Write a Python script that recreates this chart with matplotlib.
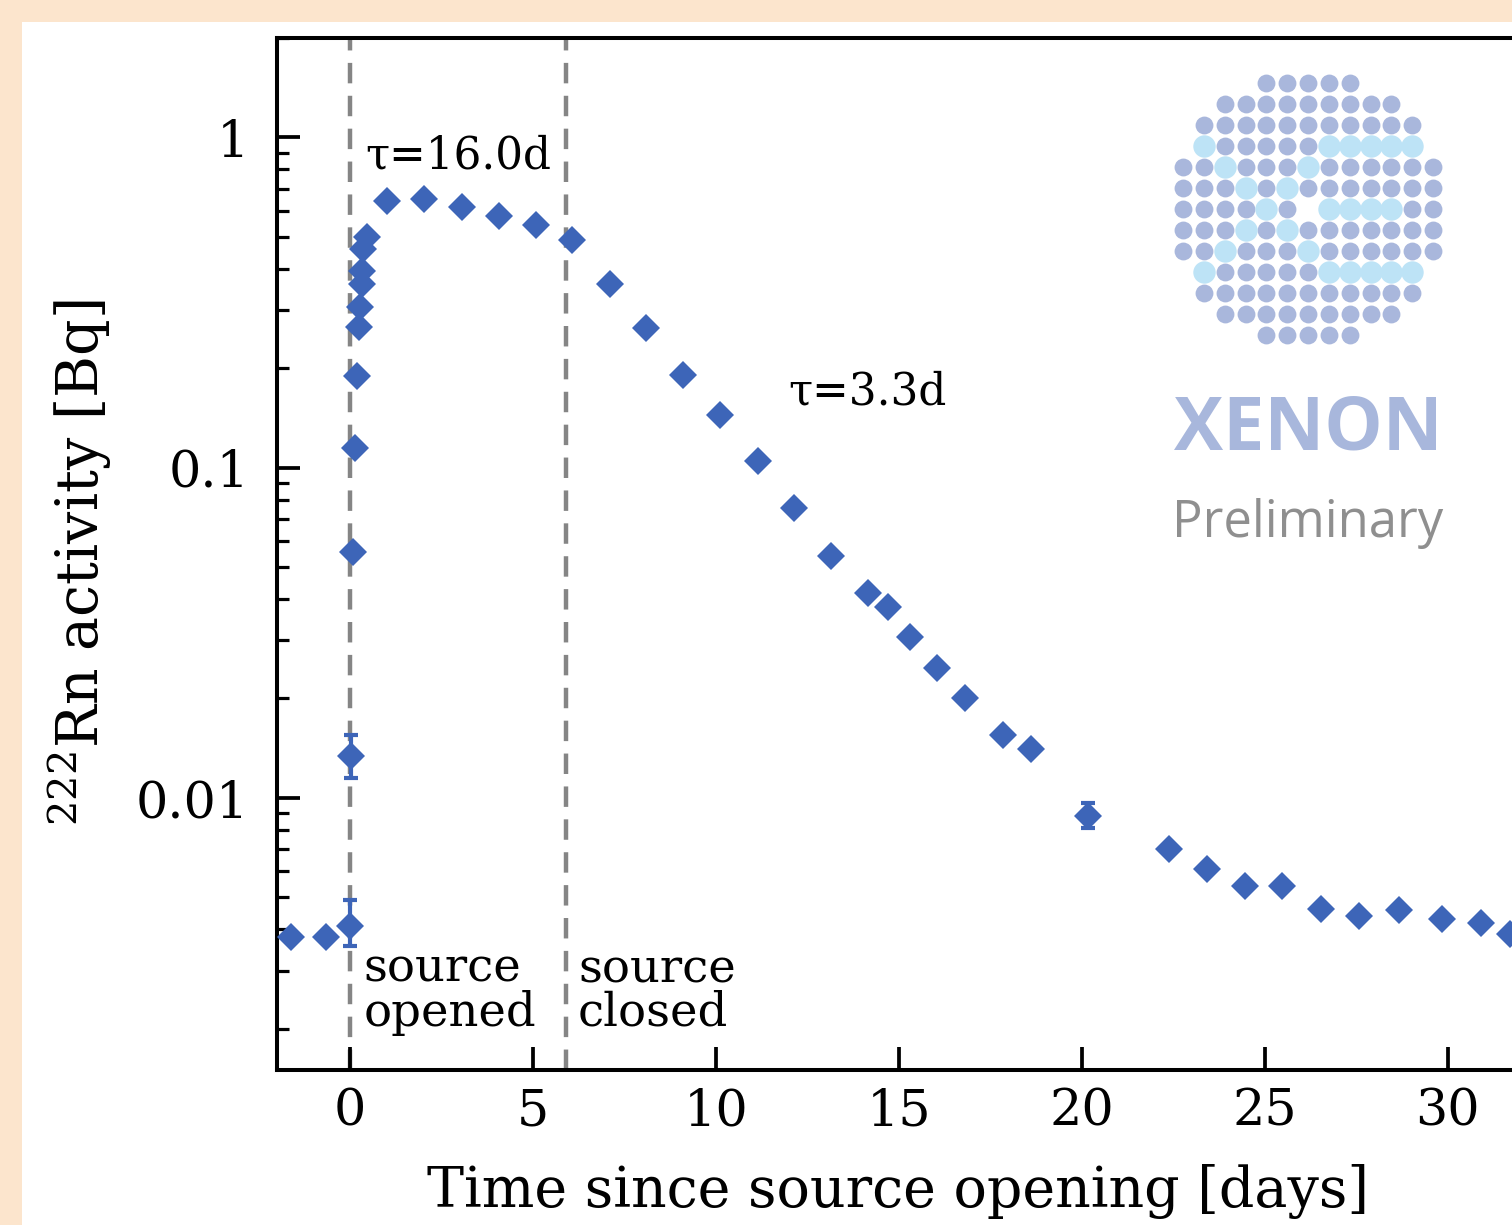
import numpy as np
import matplotlib
matplotlib.use('Agg')
import matplotlib.pyplot as plt
from matplotlib.patches import Rectangle

# Rn-222 activity
days = [-1.61, -0.66, 0.0, 0.03, 0.09, 0.12, 0.18, 0.23, 0.27, 0.32, 0.32, 0.36, 0.46,
        1.0, 2.03, 3.05, 4.07, 5.07, 6.07, 7.09, 8.09, 9.10, 10.11, 11.15, 12.13,
        13.14, 14.15, 14.70, 15.30, 16.04, 16.80, 17.84, 18.61, 20.17, 22.38,
        23.41, 24.45, 25.48, 26.53, 27.57, 28.66, 29.83, 30.92, 31.69]
activity = [0.0038, 0.0038, 0.0041, 0.0134, 0.0554, 0.115, 0.19, 0.266, 0.307, 0.36,
            0.395, 0.46, 0.499, 0.641, 0.649, 0.615, 0.580, 0.544, 0.490, 0.359,
            0.264, 0.191, 0.144, 0.105, 0.0757, 0.0541, 0.0418, 0.0379, 0.0308,
            0.0248, 0.0201, 0.0155, 0.0141, 0.00882, 0.00699, 0.00608, 0.00541,
            0.00541, 0.00460, 0.00439, 0.00458, 0.00429, 0.00419, 0.00386]
err_lo = [0, 0, 0.00055, 0.0019] + [0] * 29 + [0.00074] + [0] * 10
err_hi = [0, 0, 0.0008, 0.0021] + [0] * 29 + [0.00081] + [0] * 10

source_open = 0.0
source_close = 5.9

# XENON logo dot grid
row_counts = [5, 9, 11, 11, 13, 13, 13, 13, 13, 11, 11, 9, 5]
light_dots = [(3, 1), (3, 7), (3, 8), (3, 9), (3, 10), (3, 11),
              (4, 2), (4, 6), (5, 3), (5, 5),
              (6, 4), (6, 7), (6, 8), (6, 9), (6, 10),
              (7, 3), (7, 5), (8, 2), (8, 6),
              (9, 1), (9, 7), (9, 8), (9, 9), (9, 10), (9, 11)]
missing_dots = [(6, 6)]

plt.rcParams['font.family'] = 'DejaVu Serif'
plt.rcParams['mathtext.fontset'] = 'dejavuserif'

W, H = 1512, 1225
fig = plt.figure(figsize=(W / 100, H / 100), dpi=100)
fig.patch.set_facecolor('#fce5cd')
fig.patches.append(Rectangle((22 / W, 0), 1, 1 - 22 / H, transform=fig.transFigure,
                             facecolor='white', edgecolor='none', zorder=-10))

ax = fig.add_axes([277 / W, 1 - 1070 / H, 1244 / W, 1032 / H])
ax.set_facecolor('none')
blue = '#3d65b8'

ax.axvline(source_open, color='#858585', lw=3.2, ls=(0, (4.6, 2.8)), zorder=1)
ax.axvline(source_close, color='#858585', lw=3.2, ls=(0, (4.6, 2.8)), zorder=1)
ax.errorbar(days, activity, yerr=[err_lo, err_hi], fmt='none', ecolor=blue,
            elinewidth=3, capsize=5, capthick=3, zorder=3)
ax.plot(days, activity, 'D', color=blue, ms=14.5, mew=0, zorder=4)

ax.set_yscale('log')
ax.set_xlim(-2, 32)
ax.set_ylim(0.0015, 2.0)
ax.set_xticks([0, 5, 10, 15, 20, 25, 30])
ax.set_yticks([0.01, 0.1, 1])
ax.set_yticklabels(['0.01', '0.1', '1'])

for s in ax.spines.values():
    s.set_linewidth(2.9)
ax.tick_params(which='major', direction='in', length=16.5, width=2.7, labelsize=36.5)
ax.tick_params(axis='y', which='minor', direction='in', length=8.6, width=2.3)
ax.tick_params(axis='x', pad=12)
ax.tick_params(axis='y', pad=20)

ax.text(0.41, 0.805, 'τ=16.0d', fontsize=31.5, va='baseline')
ax.text(11.97, 0.156, 'τ=3.3d', fontsize=31.5, va='baseline')
ax.text(0.36, 0.00204, 'source\nopened', fontsize=33.5, va='baseline', linespacing=0.95)
ax.text(6.23, 0.00204, 'source\nclosed', fontsize=33.5, va='baseline', linespacing=0.95)

fig.text(898 / W, 1 - 1207 / H, 'Time since source opening [days]', fontsize=40,
         ha='center', va='baseline')
fig.text(80 / W, 1 - 563 / H, r'$^{222}$Rn activity [Bq]', fontsize=41,
         ha='center', va='center', rotation=90)

# logo
lax = fig.add_axes([1173 / W, 1 - 345.5 / H, 270 / W, 273 / H])
lax.set_xlim(-0.48, 12.48)
lax.set_ylim(12.5, -0.5)
lax.axis('off')
dark_x, dark_y, lt_x, lt_y = [], [], [], []
for r, n in enumerate(row_counts):
    start = (13 - n) // 2
    for c in range(start, start + n):
        if (r, c) in missing_dots:
            continue
        if (r, c) in light_dots:
            lt_x.append(c)
            lt_y.append(r)
        else:
            dark_x.append(c)
            dark_y.append(r)
lax.scatter(dark_x, dark_y, s=165, color='#a9b7dc', linewidths=0)
lax.scatter(lt_x, lt_y, s=260, color='#bde3f6', linewidths=0)

fig.text(1308 / W, 1 - 450 / H, 'XENON', family='Open Sans', weight='bold',
         fontsize=53, color='#a8b7dc', ha='center', va='baseline')
fig.text(1308 / W, 1 - 537 / H, 'Preliminary', family='Open Sans', fontsize=36.5,
         color='#8f8f8f', ha='center', va='baseline')

fig.savefig('out.png', dpi=100, facecolor=fig.get_facecolor())
